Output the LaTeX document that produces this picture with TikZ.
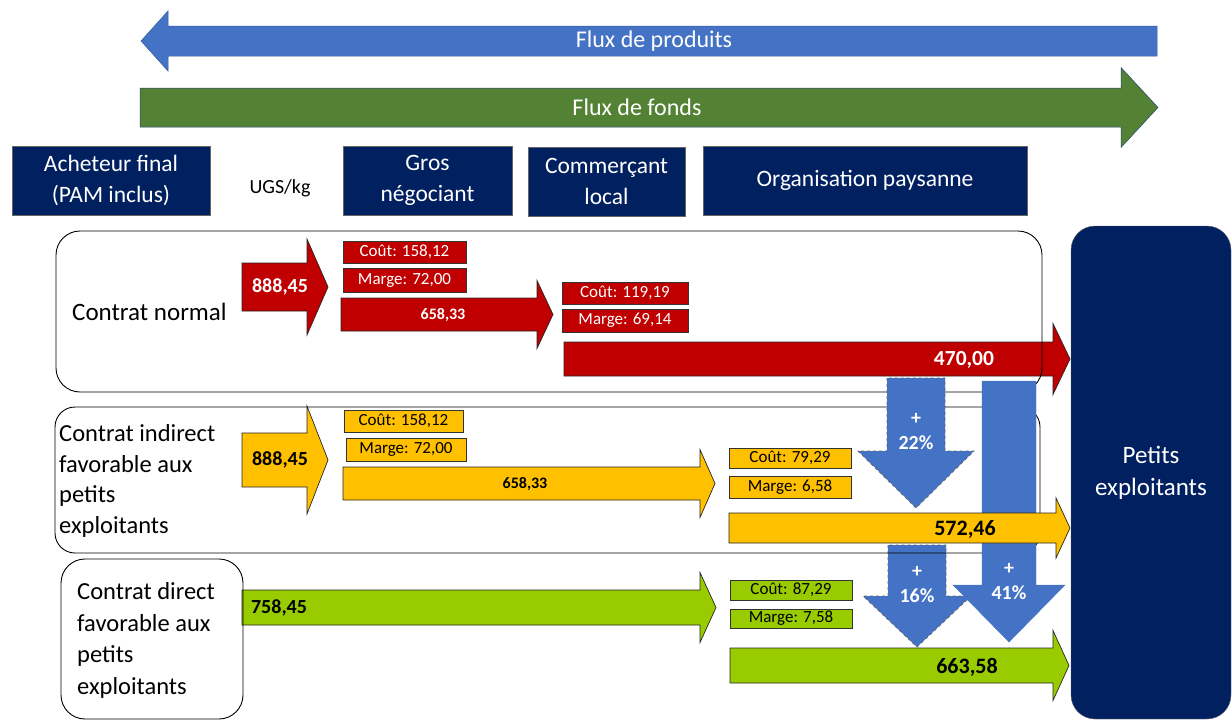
\documentclass[tikz,border=0pt]{standalone}
\usepackage{fontspec}
\setmainfont{Carlito}
\definecolor{marine}{HTML}{002060}
\definecolor{rouge}{HTML}{C00000}
\definecolor{jaune}{HTML}{FFC000}
\definecolor{vert}{HTML}{99CC00}
\definecolor{vertfonce}{HTML}{548235}
\definecolor{bleu}{HTML}{4472C4}
% fleche horizontale : style, depart, base de pointe, pointe, milieu y, demi-corps, demi-pointe
\newcommand{\flecheH}[7]{%
  \draw[#1] (#2,#5-#6) -- (#3,#5-#6) -- (#3,#5-#7) -- (#4,#5)
    -- (#3,#5+#7) -- (#3,#5+#6) -- (#2,#5+#6) -- cycle;}
% fleche verticale : style, milieu x, depart, base de pointe, pointe, demi-corps, demi-pointe
\newcommand{\flecheV}[7]{%
  \draw[#1] (#2-#6,#3) -- (#2-#6,#4) -- (#2-#7,#4) -- (#2,#5)
    -- (#2+#7,#4) -- (#2+#6,#4) -- (#2+#6,#3) -- cycle;}
\tikzset{
  entete/.style={fill=marine, draw=black!60, line width=0.6pt, text=white, inner sep=0pt,
    align=center, font=\fontsize{23.5}{31}\selectfont},
  cadre/.style={draw=black, line width=0.9pt, rounded corners=24pt, inner sep=0pt},
  etiquette/.style={draw=black!80, line width=0.7pt, inner sep=0pt, minimum width=122pt,
    font=\fontsize{17}{18}\selectfont},
  corps/.style={draw=black!85, line width=0.7pt},
  montant/.style={inner sep=0pt, font=\bfseries\fontsize{#1}{#1}\selectfont},
  hausse/.style={fill=bleu, draw=black!60, dashed, line width=0.8pt},
  legende/.style={inner sep=0pt, anchor=west, align=left},
  pourcent/.style={inner sep=0pt, text=white, align=center, font=\bfseries\fontsize{20}{25}\selectfont},
}
\begin{document}
\begin{tikzpicture}[x=1pt, y=-1pt]
  \useasboundingbox (0,0) rectangle (1232,720);

  % flux
  \flecheH{fill=bleu, draw=bleu!80!black, line width=0.5pt}{1157}{168}{141}{41}{15}{30}
  \node[text=white, inner sep=0pt, font=\fontsize{24}{24}\selectfont] (fluxProduits) at (654,41) {Flux de produits};
  \flecheH{fill=vertfonce, draw=bleu!60!black, line width=0.5pt}{140}{1121}{1158}{107.5}{19.5}{40}
  \node[text=white, inner sep=0pt, font=\fontsize{24}{24}\selectfont] (fluxFonds) at (637,107) {Flux de fonds};

  % acteurs
  \node[entete, minimum width=198pt, minimum height=69pt] (acheteur) at (111,180.5) {Acheteur final\\(PAM inclus)};
  \node[inner sep=0pt, font=\fontsize{20}{20}\selectfont] (ugs) at (280,188) {UGS/kg};
  \node[entete, minimum width=169pt, minimum height=69pt] (gros) at (427.5,180.5) {Gros\\négociant};
  \node[entete, minimum width=157pt, minimum height=69pt] (commercant) at (606.5,181.5) {Commerçant\\local};
  \node[entete, minimum width=324pt, minimum height=69pt] (organisation) at (865,180.5) {Organisation paysanne};
  \node[fill=marine, draw=black!60, rounded corners=24pt, minimum width=160pt, minimum height=493pt,
    text=white, align=center, font=\fontsize{25}{32}\selectfont] (petits) at (1151,472.5) {Petits\\exploitants};

  % hausse 16 %
  \flecheV{hausse}{917}{545}{596}{647}{29}{54}

  % contrat normal
  \flecheH{corps, fill=rouge}{242}{307}{328}{287}{24}{48}
  \node[montant=20, text=white] (rougeAcheteur) at (280,287) {888,45};
  \node[etiquette, fill=rouge, text=white, minimum width=123pt, minimum height=22pt] (coutGros1) at (404.5,252) {Coût: 158,12};
  \node[etiquette, fill=rouge, text=white, minimum width=123pt, minimum height=24pt] (margeGros1) at (404.5,280) {Marge: 72,00};
  \flecheH{corps, fill=rouge}{341}{537}{553}{314.5}{16.5}{34}
  \node[montant=16, text=white] (rougeGros) at (443,315) {658,33};
  \node[etiquette, fill=rouge, text=white, minimum width=126pt, minimum height=22pt] (coutLocal1) at (625,293) {Coût: 119,19};
  \node[etiquette, fill=rouge, text=white, minimum width=126pt, minimum height=23pt] (margeLocal1) at (625,320.5) {Marge: 69,14};
  \flecheH{corps, fill=rouge}{564}{1053}{1070}{359}{17}{35.5}
  \node[montant=21.5, text=white] (rougeProducteur) at (964,360) {470,00};

  % contrat indirect
  \flecheH{corps, fill=jaune}{242}{307}{328}{460}{27}{54}
  \node[montant=20] (jauneAcheteur) at (280,460) {888,45};
  \node[etiquette, fill=jaune, minimum width=119pt, minimum height=22pt] (coutGros2) at (403.5,421) {Coût: 158,12};
  \node[etiquette, fill=jaune, minimum width=120pt, minimum height=23pt] (margeGros2) at (406,449.5) {Marge: 72,00};
  \flecheH{corps, fill=jaune}{343}{700}{715}{483.5}{16.5}{34}
  \node[montant=16] (jauneGros) at (525,484) {658,33};
  \node[etiquette, fill=jaune, minimum height=20pt] (coutOrga2) at (790,458) {Coût: 79,29};
  \node[etiquette, fill=jaune, minimum height=22pt] (margeOrga2) at (790,487) {Marge: 6,58};

  % contrat direct
  \flecheH{corps, fill=vert}{242}{700}{716}{607.5}{17.5}{35}
  \node[montant=20] (vertAcheteur) at (279,608) {758,45};
  \node[etiquette, fill=vert, minimum height=20pt] (coutOrga3) at (791,590) {Coût: 87,29};
  \node[etiquette, fill=vert, minimum height=19pt] (margeOrga3) at (791,618.5) {Marge: 7,58};
  \flecheH{corps, fill=vert}{730}{1053}{1069}{665.5}{17.5}{35}
  \node[montant=22] (vertProducteur) at (967,667) {663,58};

  % cadres des contrats
  \node[cadre, minimum width=986pt, minimum height=161pt] (cadreNormal) at (549,311.5) {};
  \node[cadre, rounded corners=20pt, minimum width=985pt, minimum height=146pt] (cadreIndirect) at (547.5,480) {};
  \node[cadre, minimum width=182pt, minimum height=160pt] (cadreDirect) at (152,639) {};
  \node[legende, font=\fontsize{25}{25}\selectfont] (txtNormal) at (72,312) {Contrat normal};
  \node[legende, font=\fontsize{24.5}{30.7}\selectfont] (txtIndirect) at (59,481) {Contrat indirect\\favorable aux\\petits\\exploitants};
  \node[legende, font=\fontsize{24.5}{31.7}\selectfont] (txtDirect) at (77,640.5) {Contrat direct\\favorable aux\\petits\\exploitants};

  % hausses 22 % et 41 %
  \flecheV{hausse}{916}{378}{451}{508}{29}{58}
  \flecheV{fill=bleu, draw=bleu}{1009}{381}{585}{642}{27}{56}

  \flecheH{corps, fill=jaune}{729}{1056}{1070}{528}{15}{30}
  \node[montant=22] (jauneProducteur) at (965,529) {572,46};

  \node[pourcent] (hausse22) at (916,432) {+\\22\%};
  \node[pourcent] (hausse16) at (917,585) {+\\16\%};
  \node[pourcent] (hausse41) at (1009,582) {+\\41\%};
\end{tikzpicture}
\end{document}
